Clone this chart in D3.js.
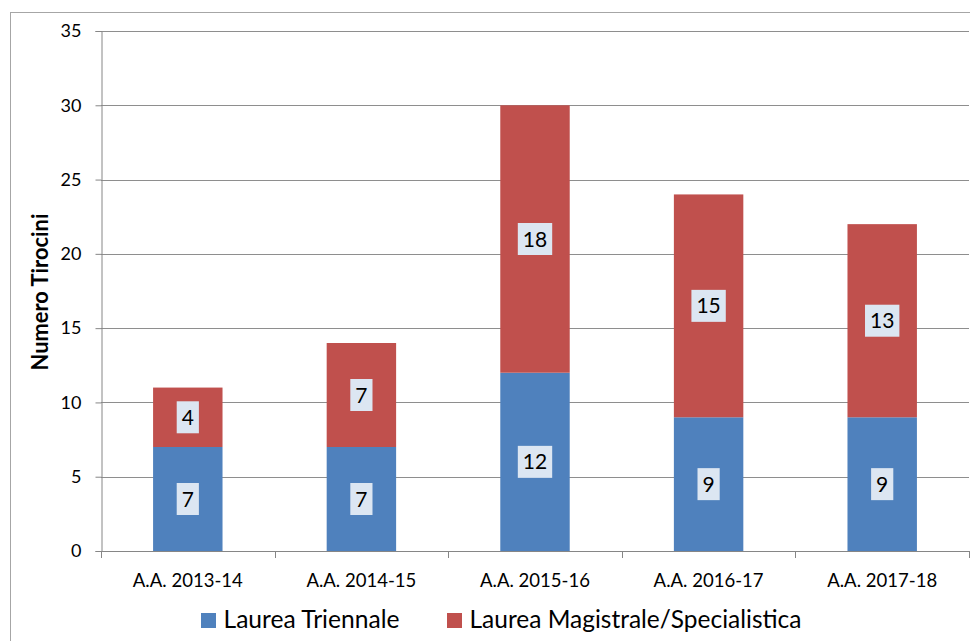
<!DOCTYPE html>
<html>
<head>
<meta charset="utf-8">
<script src="https://cdn.jsdelivr.net/npm/d3@7"></script>
<style>
  html, body { margin: 0; padding: 0; background: #fff; }
  svg { display: block; }
  text { font-family: Lato, "Open Sans", sans-serif; fill: #000; }
</style>
</head>
<body>
<svg id="chart" width="970" height="641"></svg>
<script>
const categories = ["A.A. 2013-14", "A.A. 2014-15", "A.A. 2015-16", "A.A. 2016-17", "A.A. 2017-18"];
const triennale = [7, 7, 12, 9, 9];
const magistrale = [4, 7, 18, 15, 13];
const seriesNames = ["Laurea Triennale", "Laurea Magistrale/Specialistica"];
const yTicks = [0, 5, 10, 15, 20, 25, 30, 35];
const yTitle = "Numero Tirocini";

const colors = ["#4f81bd", "#c0504d"];
const svg = d3.select("#chart");
const W = 970, H = 641;
const margin = { left: 101, right: 1, top: 31, bottom: 90 };

// scale a text's font size so its rendered width matches a target width
function fitWidth(t, target) {
  const fs = parseFloat(t.attr("font-size"));
  const w = t.node().getComputedTextLength();
  if (w > 0) t.attr("font-size", (fs * target / w).toFixed(2));
  return t;
}

// outer frame
svg.append("rect").attr("x", 10.5).attr("y", 12.5).attr("width", 1000).attr("height", 1000)
  .attr("fill", "none").attr("stroke", "#a6a6a6").attr("stroke-width", 1);

const x = d3.scaleBand().domain(categories).range([margin.left, W - margin.right]).paddingInner(0).paddingOuter(0);
const y = d3.scaleLinear().domain([0, 35]).range([H - margin.bottom, margin.top]);

// gridlines
svg.append("g").selectAll("line").data(yTicks.filter(d => d > 0)).join("line")
  .attr("x1", margin.left).attr("x2", W - margin.right)
  .attr("y1", d => Math.round(y(d)) + 0.5).attr("y2", d => Math.round(y(d)) + 0.5)
  .attr("stroke", "#8e8e8e").attr("stroke-width", 1);

const stackData = categories.map((c, i) => ({ cat: c, s0: triennale[i], s1: magistrale[i] }));
const stack = d3.stack().keys(["s0", "s1"])(stackData);

const barW = x.bandwidth() * 0.4;
const gBars = svg.append("g");
stack.forEach((layer, li) => {
  gBars.selectAll(null).data(layer).join("rect")
    .attr("x", d => x(d.data.cat) + (x.bandwidth() - barW) / 2)
    .attr("width", barW)
    .attr("y", d => y(d[1]))
    .attr("height", d => y(d[0]) - y(d[1]))
    .attr("fill", colors[li]);
});

// axes
const yAxis = d3.axisLeft(y).tickValues(yTicks).tickSize(6).tickPadding(14);
const gy = svg.append("g").attr("transform", `translate(${margin.left + 0.5},0)`).call(yAxis);
gy.select(".domain").attr("stroke", "#868686");
gy.selectAll(".tick line").attr("stroke", "#868686");
gy.selectAll(".tick text").attr("font-size", 18).attr("font-family", "Lato").attr("fill", "#000");

const xTickPos = categories.map(c => x(c)).concat([W - margin.right]);
const gx = svg.append("g");
gx.append("line").attr("x1", margin.left).attr("x2", W - margin.right)
  .attr("y1", y(0) + 0.5).attr("y2", y(0) + 0.5).attr("stroke", "#868686");
gx.selectAll("line.t").data(xTickPos).join("line").attr("class", "t")
  .attr("x1", d => Math.round(d) + 0.5).attr("x2", d => Math.round(d) + 0.5)
  .attr("y1", y(0)).attr("y2", y(0) + 7).attr("stroke", "#868686");
gx.selectAll("text").data(categories).join("text")
  .attr("x", d => x(d) + x.bandwidth() / 2).attr("y", 587)
  .attr("text-anchor", "middle").attr("font-size", 16).text(d => d)
  .each(function () { fitWidth(d3.select(this), 110); });

// y title
const yt = svg.append("text").attr("transform", `translate(48,${(y(0) + y(35)) / 2 + 1}) rotate(-90)`)
  .attr("text-anchor", "middle").attr("font-size", 17).attr("font-weight", "bold").text(yTitle);
fitWidth(yt, 157);

// data labels
const gLab = svg.append("g");
stack.forEach((layer) => {
  layer.forEach(d => {
    const v = d[1] - d[0];
    const cx = x(d.data.cat) + x.bandwidth() / 2;
    const cy = (y(d[0]) + y(d[1])) / 2;
    const t = gLab.append("text").attr("x", cx).attr("y", cy).attr("dy", "0.36em")
      .attr("text-anchor", "middle").attr("font-size", 21).text(v);
    const w = t.node().getComputedTextLength();
    gLab.insert("rect", () => t.node())
      .attr("x", cx - w / 2 - 5).attr("y", cy - 16).attr("width", w + 10).attr("height", 32)
      .attr("fill", "#dce6f2");
  });
});

// legend
const legend = svg.append("g");
const legX = [201, 447];
const legW = [176, 332];
seriesNames.forEach((n, i) => {
  legend.append("rect").attr("x", legX[i]).attr("y", 613).attr("width", 15).attr("height", 15).attr("fill", colors[i]);
  const t = legend.append("text").attr("x", legX[i] + 22.5).attr("y", 628)
    .attr("font-size", 21).text(n);
  fitWidth(t, legW[i]);
});
</script>
</body>
</html>
